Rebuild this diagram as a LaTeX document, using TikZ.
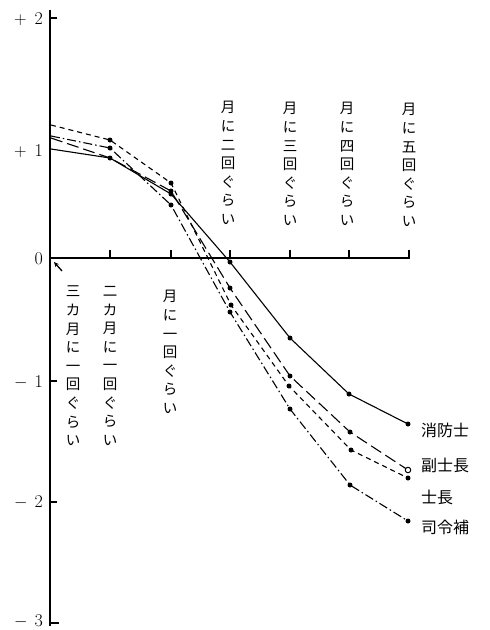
\documentclass[tikz,border=0pt]{standalone}
\usepackage{fontspec}
\newfontfamily\jp{Noto Sans CJK JP}
\usetikzlibrary{arrows.meta}
\begin{document}
\begin{tikzpicture}[x=1pt,y=-1pt,
  ax/.style={line width=2pt},
  tk/.style={line width=1.5pt},
  ser/.style={line width=1.1pt},
  longd/.style={ser,dash pattern=on 12pt off 5pt},
  shortd/.style={ser,dash pattern=on 5pt off 4pt},
  dashdot/.style={ser,dash pattern=on 9pt off 3pt on 1.5pt off 3pt},
  fdot/.style={circle,fill,inner sep=0,minimum size=5pt},
  odot/.style={circle,draw,fill=white,line width=1pt,inner sep=0,minimum size=5.5pt},
  vlab/.style={font=\jp\fontsize{14.5}{18.6}\selectfont,align=center,inner sep=0},
  ylab/.style={font=\fontsize{18}{18}\selectfont,anchor=east,inner sep=0},
  leg/.style={font=\jp\fontsize{16}{16}\selectfont,anchor=west,inner sep=0}]
\useasboundingbox (0,0) rectangle (490,630);
% axes
\coordinate (ytop) at (50,10);
\coordinate (ybot) at (50,626);
\coordinate (o) at (50,258);
\coordinate (xend) at (410,258);
\draw[ax] (ytop) -- (ybot);
\draw[ax] (o) -- (xend);
% x ticks
\foreach \x in {110,171,230,290,349,409}
  \draw[tk] (\x,258) -- (\x,250);
% y ticks
\foreach \y in {18,381,502}
  \draw[tk] (50,\y) -- (57,\y);
\draw[tk] (50,623) -- (59,623);
% y labels
\node[ylab] (lp2) at (43,19) {$+$\hspace{8pt}2};
\node[ylab] (lp1) at (43,151) {$+$\hspace{8pt}1};
\node[ylab] (l0) at (43,259) {0};
\node[ylab] (lm1) at (43,382) {$-$\hspace{7pt}1};
\node[ylab] (lm2) at (43,502) {$-$\hspace{7pt}2};
\node[ylab] (lm3) at (43,621) {$-$\hspace{7pt}3};
% category labels
\node[vlab] (c2) at (228,163) {月\\に\\二\\回\\ぐ\\ら\\い};
\node[vlab] (c3) at (290,164) {月\\に\\三\\回\\ぐ\\ら\\い};
\node[vlab] (c4) at (347,164) {月\\に\\四\\回\\ぐ\\ら\\い};
\node[vlab] (c5) at (409,165) {月\\に\\五\\回\\ぐ\\ら\\い};
\node[vlab] (cm3) at (73,366) {三\\カ\\月\\に\\一\\回\\ぐ\\ら\\い};
\node[vlab] (cm2) at (110,366) {二\\カ\\月\\に\\一\\回\\ぐ\\ら\\い};
\node[vlab] (c1) at (170,352) {月\\に\\一\\回\\ぐ\\ら\\い};
% arrow to origin
\coordinate (atail) at (62,271);
\coordinate (ahead) at (54,262);
\draw[line width=1.3pt,-{Stealth[length=5pt,width=4.5pt]}] (atail) -- (ahead);
% data points
\coordinate (s0) at (51,149);  \coordinate (s1) at (110,158);
\coordinate (s2) at (171,194); \coordinate (s3) at (230,262);
\coordinate (s4) at (290,338); \coordinate (s5) at (349,394);
\coordinate (s6) at (408,424);
\coordinate (f0) at (51,138);  \coordinate (f1) at (110,158);
\coordinate (f2) at (171,191); \coordinate (f3) at (230,288);
\coordinate (f4) at (290,376); \coordinate (f5) at (350,432);
\coordinate (f6) at (408,470);
\coordinate (h0) at (51,125);  \coordinate (h1) at (110,140);
\coordinate (h2) at (171,183); \coordinate (h3) at (231,305);
\coordinate (h4) at (289,386); \coordinate (h5) at (351,450);
\coordinate (h6) at (408,478);
\coordinate (d0) at (51,136);  \coordinate (d1) at (110,148);
\coordinate (d2) at (171,205); \coordinate (d3) at (230,312);
\coordinate (d4) at (290,409); \coordinate (d5) at (350,485);
\coordinate (d6) at (408,521);
% series
\draw[ser] (s0) -- (s1) -- (s2) -- (s3) -- (s4) -- (s5) -- (s6);
\draw[longd] (f0) -- (f1) -- (f2) -- (f3) -- (f4) -- (f5) -- (f6);
\draw[shortd] (h0) -- (h1) -- (h2) -- (h3) -- (h4) -- (h5) -- (h6);
\draw[dashdot] (d0) -- (d1) -- (d2) -- (d3) -- (d4) -- (d5) -- (d6);
\foreach \p in {s1,s2,s3,s4,s5,s6,f2,f3,f4,f5,h1,h2,h3,h4,h5,h6,d1,d2,d3,d4,d5,d6}
  \node[fdot] at (\p) {};
\node[odot] at (f6) {};
% legend
\node[leg] (n1) at (421,430) {消防士};
\node[leg] (n2) at (421,465) {副士長};
\node[leg] (n3) at (421,497) {士長};
\node[leg] (n4) at (421,527) {司令補};
\end{tikzpicture}
\end{document}
